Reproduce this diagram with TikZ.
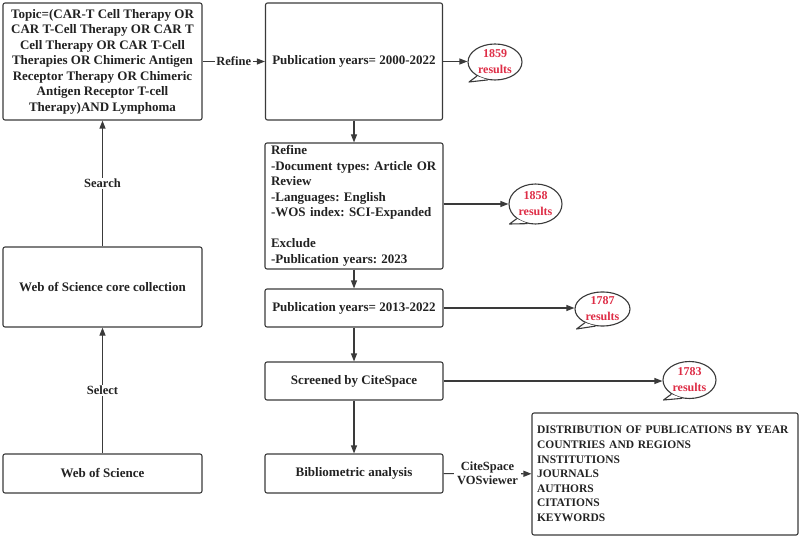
\documentclass[tikz,border=0pt]{standalone}
\usepackage{fontspec}
\setmainfont{Liberation Serif}
\usetikzlibrary{arrows.meta,shapes.geometric,calc}
\definecolor{ln}{HTML}{3A3A3A}
\definecolor{tx}{HTML}{222222}
\definecolor{rd}{HTML}{DE2D46}
\frenchspacing
\tikzset{
  box/.style={draw=ln, line width=1.1pt, rounded corners=2pt, inner sep=0pt, text=tx, align=center,
    font=\frenchspacing\fontsize{13}{15.5}\selectfont\bfseries},
  arr/.style={draw=ln, line width=1.1pt, -{Triangle[length=8pt,width=6pt]}},
  lbl/.style={fill=white, inner sep=1.5pt, text=tx, font=\fontsize{12.5}{14}\selectfont\bfseries, align=center},
  bub/.style={ellipse, draw=ln, line width=1.1pt, fill=white, inner sep=0pt, text=rd, align=center,
    font=\fontsize{12}{16}\selectfont\bfseries},
}
\newcommand{\tailof}[1]{\draw[draw=ln, line width=1.1pt, fill=white, line join=round]
  (#1.218) -- ($(#1.center)+(-26,20)$) -- (#1.248);}
\begin{document}
\begin{tikzpicture}[x=1pt,y=-1pt]
\useasboundingbox (0,0) rectangle (800,537);
% left column
\node[box, minimum width=199pt, minimum height=117pt] (topic) at (102.5,61.5)
  {Topic=(CAR-T Cell Therapy OR\\CAR T-Cell Therapy OR CAR T\\Cell Therapy OR CAR T-Cell\\Therapies OR Chimeric Antigen\\Receptor Therapy OR Chimeric\\Antigen Receptor T-cell\\Therapy)AND Lymphoma};
\node[box, minimum width=199pt, minimum height=80pt] (core) at (102.5,287) {Web of Science core collection};
\node[box, minimum width=199pt, minimum height=39pt] (wos) at (102.5,473.5) {Web of Science};
% right column
\node[box, minimum width=177pt, minimum height=117pt] (pub1) at (354,61.5) {Publication years= 2000-2022};
\node[box, minimum width=178pt, minimum height=126pt, text width=166pt, align=left, inner xsep=6pt] (ref) at (354,206)
  {Refine\\-Document types: Article OR\\Review\\-Languages: English\\-WOS index: SCI-Expanded\\[15.5pt]Exclude\\-Publication years: 2023};
\node[box, minimum width=178pt, minimum height=38pt] (pub2) at (354,308) {Publication years= 2013-2022};
\node[box, minimum width=178pt, minimum height=38pt] (scr) at (354,381) {Screened by CiteSpace};
\node[box, minimum width=178pt, minimum height=39pt] (bib) at (354,473.5) {Bibliometric analysis};
\node[box, minimum width=266pt, minimum height=122pt, text width=256pt, align=left, inner xsep=5pt,
  font=\frenchspacing\fontsize{11.5}{14.6}\selectfont\bfseries] (list) at (665,474)
  {DISTRIBUTION OF PUBLICATIONS BY YEAR\\COUNTRIES AND REGIONS\\INSTITUTIONS\\JOURNALS\\AUTHORS\\CITATIONS\\KEYWORDS};
% bubbles
\node[bub, minimum width=54pt, minimum height=36pt] (b1) at (495,62) {1859\\results};
\tailof{b1}
\node[bub, minimum width=53pt, minimum height=40pt] (b2) at (535.5,204) {1858\\results};
\tailof{b2}
\node[bub, minimum width=55pt, minimum height=34pt] (b3) at (602.5,309) {1787\\results};
\tailof{b3}
\node[bub, minimum width=53pt, minimum height=37pt] (b4) at (689.5,380) {1783\\results};
\tailof{b4}
% connectors
\draw[arr] (wos) -- node[lbl]{Select} (core);
\draw[arr] (core) -- node[lbl, pos=0.5]{Search} (topic);
\draw[arr] (topic) -- node[lbl]{Refine} (pub1);
\draw[arr] (pub1) -- (ref);
\draw[arr] (ref) -- (pub2);
\draw[arr] (pub2) -- (scr);
\draw[arr] (scr) -- (bib);
\draw[arr] (pub1.east) -- (b1.west |- pub1.east);
\draw[arr] (ref.east |- b2.west) -- (b2.west);
\draw[arr] (pub2.east) -- (b3.west |- pub2.east);
\draw[arr] (scr.east) -- (b4.west |- scr.east);
\draw[arr] (bib) -- node[lbl, inner xsep=3pt]{CiteSpace\\VOSviewer} (list);
\end{tikzpicture}
\end{document}
